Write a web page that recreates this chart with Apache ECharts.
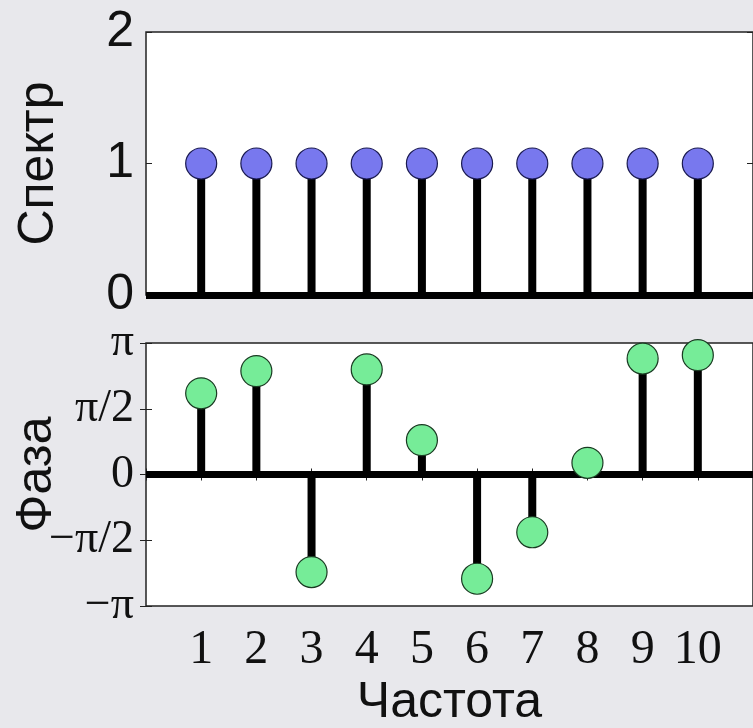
<!DOCTYPE html>
<html><head><meta charset="utf-8">
<script src="https://cdn.jsdelivr.net/npm/echarts@6/dist/echarts.min.js"></script>
<style>html,body{margin:0;padding:0;background:#e8e8ec;} #c{width:753px;height:728px;}</style>
</head><body><div id="c"></div>
<script>
// ---- data ----
const frequencies = [1, 2, 3, 4, 5, 6, 7, 8, 9, 10];
const spectrum = [1, 1, 1, 1, 1, 1, 1, 1, 1, 1];
// phase in radians
const phase = [1.94, 2.47, -2.33, 2.51, 0.82, -2.49, -1.38, 0.28, 2.77, 2.85];
const freqTickLabels = ['1', '2', '3', '4', '5', '6', '7', '8', '9', '10'];
const spectrumTickLabels = ['0', '1', '2'];
const phaseTickLabels = ['\u2212\u03c0', '\u2212\u03c0/2', '0', '\u03c0/2', '\u03c0'];

const SANS = '"Liberation Sans", Arial, sans-serif';
const SERIF = '"Liberation Serif", "Times New Roman", serif';

const specData = frequencies.map((f, i) => [f, spectrum[i]]);
const phaseData = frequencies.map((f, i) => [f, phase[i] / Math.PI]);

function stem(params, api) {
  const x = api.value(0), y = api.value(1);
  const p0 = api.coord([x, 0]), p1 = api.coord([x, y]);
  return { type: 'line', shape: { x1: p0[0], y1: p0[1], x2: p1[0], y2: p1[1] },
           style: { stroke: '#000', lineWidth: 8 } };
}
const tickStyle = { show: true, inside: true, length: 6, lineStyle: { color: '#222', width: 1 } };
const baseLine = {
  silent: true, symbol: 'none', label: { show: false },
  lineStyle: { color: '#000', width: 7, type: 'solid' },
  data: [{ yAxis: 0 }]
};

const chart = echarts.init(document.getElementById('c'));
chart.setOption({
  backgroundColor: '#e8e8ec',
  animation: false,
  grid: [
    { left: 146, top: 32, width: 607, height: 263, show: true, backgroundColor: '#fff', borderColor: '#222', borderWidth: 1.5,
      containLabel: false, outerBoundsMode: 'none' },
    { left: 146, top: 343, width: 607, height: 263, show: true, backgroundColor: '#fff', borderColor: '#222', borderWidth: 1.5,
      containLabel: false, outerBoundsMode: 'none' }
  ],
  xAxis: [
    { gridIndex: 0, type: 'value', min: 0, max: 11, interval: 1, position: 'bottom',
      axisLine: { show: false }, axisTick: { show: false }, axisLabel: { show: false }, splitLine: { show: false } },
    { gridIndex: 1, type: 'value', min: 0, max: 11, interval: 1, position: 'bottom',
      axisLine: { show: false }, axisTick: tickStyle, splitLine: { show: false },
      axisLabel: { show: true, margin: 20, color: '#111', fontFamily: SERIF, fontSize: 48,
        formatter: v => (v >= 1 && v <= 10) ? freqTickLabels[v - 1] : '' },
      name: 'Частота', nameLocation: 'middle', nameGap: 72, nameMoveOverlap: false,
      nameTextStyle: { fontFamily: SANS, fontSize: 50, color: '#111' } },
    { gridIndex: 1, type: 'value', min: 0, max: 11, interval: 1, position: 'top',
      axisLine: { show: false }, axisTick: tickStyle, axisLabel: { show: false }, splitLine: { show: false } }
  ],
  yAxis: [
    { gridIndex: 0, type: 'value', min: 0, max: 2, interval: 1, position: 'left',
      axisLine: { show: false }, axisTick: tickStyle, splitLine: { show: false },
      axisLabel: { margin: 12, color: '#111', fontFamily: SANS, fontSize: 50,
        formatter: v => spectrumTickLabels[Math.round(v)] },
      name: 'Спектр', nameLocation: 'middle', nameGap: 82, nameRotate: 90, nameMoveOverlap: false,
      nameTextStyle: { fontFamily: SANS, fontSize: 50, color: '#111' } },
    { gridIndex: 0, type: 'value', min: 0, max: 2, interval: 1, position: 'right',
      axisLine: { show: false }, axisTick: tickStyle, axisLabel: { show: false }, splitLine: { show: false } },
    { gridIndex: 1, type: 'value', min: -1, max: 1, interval: 0.5, position: 'left',
      axisLine: { show: false }, axisTick: tickStyle, splitLine: { show: false },
      axisLabel: { margin: 12, color: '#111', fontFamily: SERIF, fontSize: 46,
        formatter: v => phaseTickLabels[Math.round((v + 1) * 2)] },
      name: 'Фаза', nameLocation: 'middle', nameGap: 84, nameRotate: 90, nameMoveOverlap: false,
      nameTextStyle: { fontFamily: SANS, fontSize: 50, color: '#111' } },
    { gridIndex: 1, type: 'value', min: -1, max: 1, interval: 0.5, position: 'right',
      axisLine: { show: false }, axisTick: tickStyle, axisLabel: { show: false }, splitLine: { show: false } }
  ],
  series: [
    { type: 'custom', xAxisIndex: 0, yAxisIndex: 0, data: specData, renderItem: stem, z: 2, markLine: baseLine },
    { type: 'scatter', xAxisIndex: 0, yAxisIndex: 0, data: specData, symbolSize: 31, z: 10,
      itemStyle: { color: '#7878ee', borderColor: '#1a1a50', borderWidth: 1.2, opacity: 1 } },
    { type: 'custom', xAxisIndex: 1, yAxisIndex: 2, data: phaseData, renderItem: stem, z: 2, markLine: baseLine },
    { type: 'scatter', xAxisIndex: 1, yAxisIndex: 2, data: phaseData, symbolSize: 31, z: 10,
      itemStyle: { color: '#76ec98', borderColor: '#1a3a22', borderWidth: 1.2, opacity: 1 } }
  ]
});
</script></body></html>
